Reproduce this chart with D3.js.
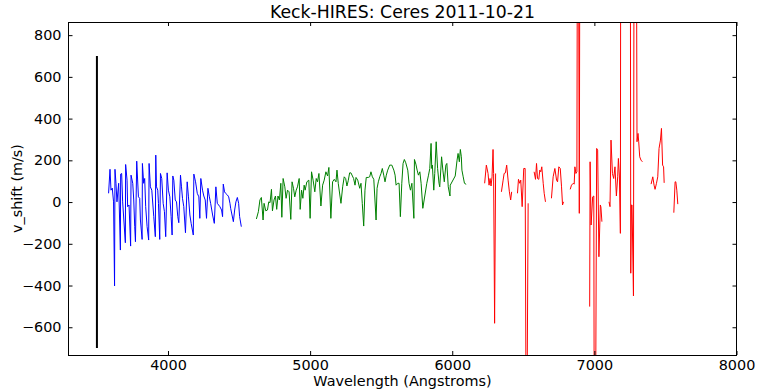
<!DOCTYPE html>
<html>
<head>
<meta charset="utf-8">
<script src="https://cdn.jsdelivr.net/npm/d3@7"></script>
<style>
  html, body { margin: 0; padding: 0; background: #fff; }
  text { font-family: "DejaVu Sans", sans-serif; fill: #000; }
</style>
</head>
<body>
<svg id="chart" width="759" height="389"></svg>
<script>
// Velocity shift per echelle chunk, three wavelength ranges (Angstroms, m/s).
// null marks a break between chunk groups.
const blueWl = [3582,3592,3599,3608,3617,3624,3627,3634,3641,3653,3665,3667,3674,3681,3700,3702,3712,3716,3726,3737,3740,3752,3759,3766,3771,3780,3792,3801,3806,3818,3820,3829,3836,3843,3853,3864,3867,3876,3886,3900,3911,3914,3919,3928,3933,3942,3947,3956,3966,3975,3984,3994,4003,4013,4022,4029,4034,4041,4051,4060,4069,4076,4088,4095,4102,4111,4123,4135,4144,4154,4163,4178,4182,4194,4206,4217,4224,4231,4243,4252,4262,4271,4281,4291,4300,4314,4326,4337,4347,4356,4365,4377,4384,4389,4398,4405,4418,4427,4436,4441,4460,4469,4478,4488,4497,4504,4516];
const blueV = [42,157,57,67,1,-402,157,90,1,90,-230,134,137,1,-195,180,105,-22,-14,-211,129,90,10,-118,-190,196,25,18,-86,-179,185,90,113,-22,-118,-182,185,73,57,-70,-166,225,73,57,-6,-179,137,113,-6,-46,-166,140,57,25,-70,-158,125,105,10,1,-70,-99,129,73,18,-22,-147,97,25,-62,-102,-158,134,97,42,25,-78,113,57,29,10,-78,66,25,-6,-62,-102,73,-6,-14,-22,-38,-70,86,49,42,34,25,-6,-30,-94,-38,1,22,-6,-70,-118];

const greenWl = [4622,4636,4647,4657,4669,4676,4688,4700,4709,4718,4728,4735,4746,4756,4765,4774,4784,4794,4801,4810,4822,4831,4841,4852,4864,4873,4883,4892,4902,4911,4923,4930,4940,4949,4958,4965,4977,4991,5000,5010,5021,5033,5043,5052,5062,5076,5088,5099,5111,5123,5132,5146,5158,5170,5182,5189,5198,5217,5229,5240,5250,5259,5268,5278,5287,5306,5316,5323,5335,5349,5358,5367,5377,5386,5395,5409,5419,5428,5438,5448,5464,5471,5480,5490,5499,5508,5518,5527,5536,5546,5560,5575,5589,5598,5605,5617,5626,5635,5645,5654,5663,5673,5687,5696,5706,5716,5730,5734,5744,5753,5762,5772,5781,5793,5821,5833,5842,5851,5856,5860,5870,5877,5887,5897,5907,5912,5925,5934,5944,5955,5962,5972,5984,5986,6021,6034,6041,6050,6057,6064,6068,6077,6086,6098];
const greenV = [-81,-46,10,22,-86,-6,-42,-38,1,-3,61,-42,10,29,-35,29,10,90,-73,113,73,18,57,49,-83,97,66,25,57,73,113,-35,57,18,81,57,97,105,-78,145,105,49,113,97,137,-19,81,105,145,125,166,-78,97,109,97,153,90,-6,73,121,113,77,102,140,140,113,81,118,105,66,90,-6,-115,57,118,118,121,145,121,109,-86,66,97,121,137,161,129,97,129,153,177,177,153,129,81,90,90,-70,90,185,204,188,153,90,57,90,-78,204,182,153,129,145,90,-30,90,129,161,281,161,177,57,137,289,161,90,73,217,153,97,177,185,73,29,81,125,201,233,193,252,217,153,121,90,85];

const redWl = [6228,6240,6252,6259,6266,6273,6280,6287,6291,6298,6305,null,
  6346,6358,6365,6374,6383,6393,6402,6411,6418,null,
  6459,6466,6475,6482,6492,6503,6513,6522,6534,null,
  6576,6586,6593,6600,6609,6616,6623,6630,6640,6647,6656,null,
  6698,6710,6722,6734,6741,6750,6760,6769,6776,6783,null,
  6830,6839,6851,6858,6863,6870,6877,6884,6894,6901,null,
  6967,6970,6977,6988,6996,7000,7006,7016,7023,7032,7042,7046,7053,null,
  7103,7110,7117,7127,7136,7145,7155,7164,7169,7176,7183,7187,null,
  7251,7256,7261,7265,7275,7282,7291,7300,7307,7312,7319,7328,7338,null,
  7399,7411,7420,7427,7437,7446,7455,7465,7472,7480,7487,7491,null,
  7559,7568,7573,7580,7587];
const redV = [90,177,137,81,113,77,121,252,137,-581,137,null,
  49,105,137,140,177,105,49,10,49,null,
  42,109,90,105,-22,161,161,-1500,-6,null,
  145,109,185,113,109,153,145,169,90,42,1,null,
  18,121,161,105,97,169,161,73,-14,1,null,
  61,81,90,86,169,137,145,2500,-54,2500,null,
  -501,193,-110,25,29,-1500,-1500,257,249,-262,-14,-24,-94,null,
  1,-22,297,137,113,169,29,121,209,125,-150,2500,null,
  2500,-341,-14,-14,-450,2500,2500,289,329,289,217,201,193,null,
  86,121,81,61,90,121,257,297,353,177,169,92,null,
  -51,97,97,57,-10];

// Scale bar marker
const barWl = [3500, 3500];
const barV = [-700, 700];

const xTicks = [4000, 5000, 6000, 7000, 8000];
const yTicks = [-600, -400, -200, 0, 200, 400, 600, 800];

const titleText = "Keck-HIRES: Ceres 2011-10-21";
const xLabel = "Wavelength (Angstroms)";
const yLabel = "v_shift (m/s)";

const margin = { left: 68.5, right: 736.5, top: 22, bottom: 355 };

const svg = d3.select("#chart");
const x = d3.scaleLinear().domain([3300, 8000]).range([margin.left, margin.right]);
const y = d3.scaleLinear().domain([-733, 863]).range([margin.bottom, margin.top]);

svg.append("defs").append("clipPath").attr("id", "plotClip")
  .append("rect")
  .attr("x", margin.left).attr("y", margin.top)
  .attr("width", margin.right - margin.left).attr("height", margin.bottom - margin.top);

const zip = (a, b) => a.map((v, i) => [v, b[i]]);
const line = d3.line()
  .defined(d => d[0] != null && d[1] != null)
  .x(d => x(d[0])).y(d => y(d[1]));

const plot = svg.append("g").attr("clip-path", "url(#plotClip)");

plot.append("path").datum(zip(barWl, barV))
  .attr("d", line).attr("fill", "none")
  .attr("stroke", "#000").attr("stroke-width", 2);

[[blueWl, blueV, "#0000ff"], [greenWl, greenV, "#008000"], [redWl, redV, "#ff0000"]]
  .forEach(([wl, v, c]) => {
    plot.append("path").datum(zip(wl, v))
      .attr("d", line).attr("fill", "none")
      .attr("stroke", c).attr("stroke-width", 1)
      .attr("stroke-linejoin", "round");
  });

// Axes with inward ticks on all four sides
const fmt = d => d3.format("d")(d).replace("-", "\u2212");
const tickLen = 4;

const axBottom = svg.append("g").attr("transform", `translate(0,${margin.bottom})`)
  .call(d3.axisBottom(x).tickValues(xTicks).tickSizeInner(-tickLen).tickSizeOuter(0).tickPadding(5).tickFormat(fmt));
const axTop = svg.append("g").attr("transform", `translate(0,${margin.top})`)
  .call(d3.axisTop(x).tickValues(xTicks).tickSizeInner(-tickLen).tickSizeOuter(0).tickFormat(""));
const axLeft = svg.append("g").attr("transform", `translate(${margin.left},0)`)
  .call(d3.axisLeft(y).tickValues(yTicks).tickSizeInner(-tickLen).tickSizeOuter(0).tickPadding(7).tickFormat(fmt));
const axRight = svg.append("g").attr("transform", `translate(${margin.right},0)`)
  .call(d3.axisRight(y).tickValues(yTicks).tickSizeInner(-tickLen).tickSizeOuter(0).tickFormat(""));

[axBottom, axTop, axLeft, axRight].forEach(g => {
  g.select(".domain").remove();
  g.selectAll("line").attr("stroke", "#000").attr("stroke-width", 1);
  g.selectAll("text").attr("font-family", "DejaVu Sans, sans-serif").attr("font-size", 14.4).attr("fill", "#000");
});

svg.append("rect")
  .attr("x", margin.left).attr("y", margin.top + 0.5)
  .attr("width", margin.right - margin.left).attr("height", margin.bottom - margin.top)
  .attr("fill", "none").attr("stroke", "#000").attr("stroke-width", 1);

svg.append("text").attr("x", (margin.left + margin.right) / 2).attr("y", 17.5)
  .attr("text-anchor", "middle").attr("font-size", 17.3).text(titleText);

svg.append("text").attr("x", (margin.left + margin.right) / 2).attr("y", 385.5)
  .attr("text-anchor", "middle").attr("font-size", 14.4).text(xLabel);

svg.append("text")
  .attr("transform", `translate(22,${(margin.top + margin.bottom) / 2}) rotate(-90)`)
  .attr("text-anchor", "middle").attr("font-size", 14.4).text(yLabel);
</script>
</body>
</html>
